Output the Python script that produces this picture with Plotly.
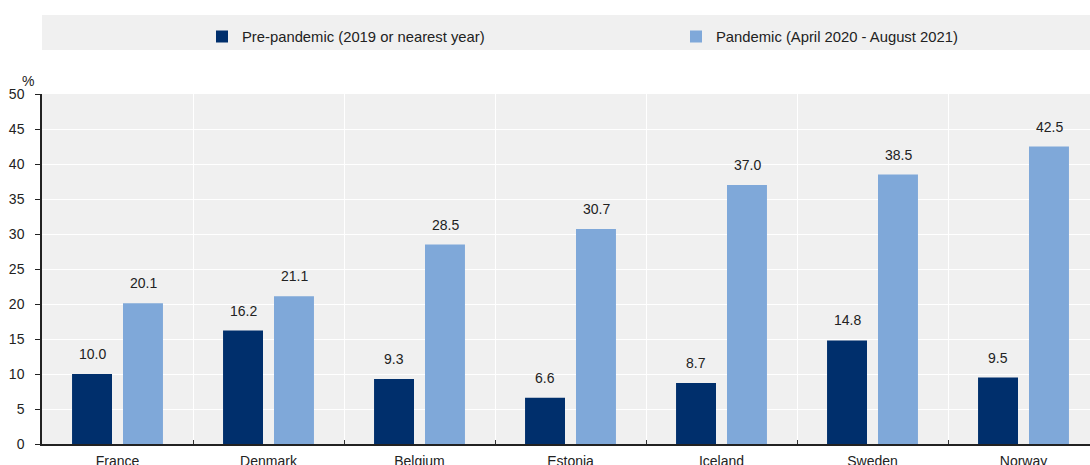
import plotly.graph_objects as go

countries = ["France", "Denmark", "Belgium", "Estonia", "Iceland", "Sweden", "Norway"]
pre_pandemic = [10.0, 16.2, 9.3, 6.6, 8.7, 14.8, 9.5]
pandemic = [20.1, 21.1, 28.5, 30.7, 37.0, 38.5, 42.5]
y_ticks = [0, 5, 10, 15, 20, 25, 30, 35, 40, 45, 50]

DARK = "#002F6C"
LIGHT = "#7FA8D9"
BG = "#F0F0F0"
FONT = "Liberation Sans, Arial, sans-serif"
TXT = "#222222"

W, H = 1090, 465
ML, MR, MT, MB = 42, 0, 94, 21
plot_w = W - ML - MR
plot_h = H - MT - MB
cat_px = 151.0


def px_x(px):
    return (px - ML) / plot_w


def px_y(py):
    return (H - MB - py) / plot_h


fig = go.Figure()
fig.add_trace(go.Bar(name="Pre-pandemic (2019 or nearest year)", x=countries, y=pre_pandemic,
                     marker=dict(color=DARK, line=dict(width=0)), legend="legend"))
fig.add_trace(go.Bar(name="Pandemic (April 2020 - August 2021)", x=countries, y=pandemic,
                     marker=dict(color=LIGHT, line=dict(width=0)), legend="legend2"))

# value labels
off = 25.5
for i, c in enumerate(countries):
    for v, s in ((pre_pandemic[i], -off), (pandemic[i], off)):
        fig.add_annotation(x=c, y=v, text=f"{v:.1f}", showarrow=False, xshift=s, yshift=20,
                           yanchor="middle", font=dict(size=14, color=TXT, family=FONT))

# legend band
fig.add_shape(type="rect", xref="paper", yref="paper", x0=0, x1=1.01,
              y0=px_y(50), y1=px_y(15),
              fillcolor=BG, line=dict(width=0), layer="below")

fig.add_annotation(xref="paper", yref="paper", x=px_x(20), y=px_y(71),
                   text="%", showarrow=False, font=dict(size=14, color=TXT, family=FONT))

leg_common = dict(orientation="h", xanchor="left", yanchor="middle",
                  bgcolor="rgba(0,0,0,0)", font=dict(size=14.8, color=TXT, family=FONT))

fig.update_layout(
    width=W, height=H,
    margin=dict(l=ML, r=MR, t=MT, b=MB),
    paper_bgcolor="white", plot_bgcolor=BG,
    barmode="group", bargap=0.325, bargroupgap=0.216,
    font=dict(family=FONT, size=14, color=TXT),
    showlegend=True,
    legend=dict(x=px_x(202), y=px_y(37), **leg_common),
    legend2=dict(x=px_x(676), y=px_y(37), **leg_common),
    xaxis=dict(type="category", range=[-0.5, -0.5 + plot_w / cat_px], automargin=False,
               tickson="boundaries", showgrid=True, gridcolor="white", gridwidth=1,
               ticks="inside", ticklen=4, tickcolor="#333333",
               showline=True, linecolor=TXT, linewidth=1.5,
               ticklabelstandoff=3,
               tickfont=dict(size=14, color=TXT)),
    yaxis=dict(range=[0, 50], tickvals=y_ticks, showgrid=True, gridcolor="white", gridwidth=1,
               automargin=False,
               ticks="outside", ticklen=5, tickcolor=TXT,
               showline=True, linecolor=TXT, linewidth=1.5, zeroline=False,
               ticklabelstandoff=8,
               tickfont=dict(size=14, color=TXT)),
)

fig.write_html("out.html")
